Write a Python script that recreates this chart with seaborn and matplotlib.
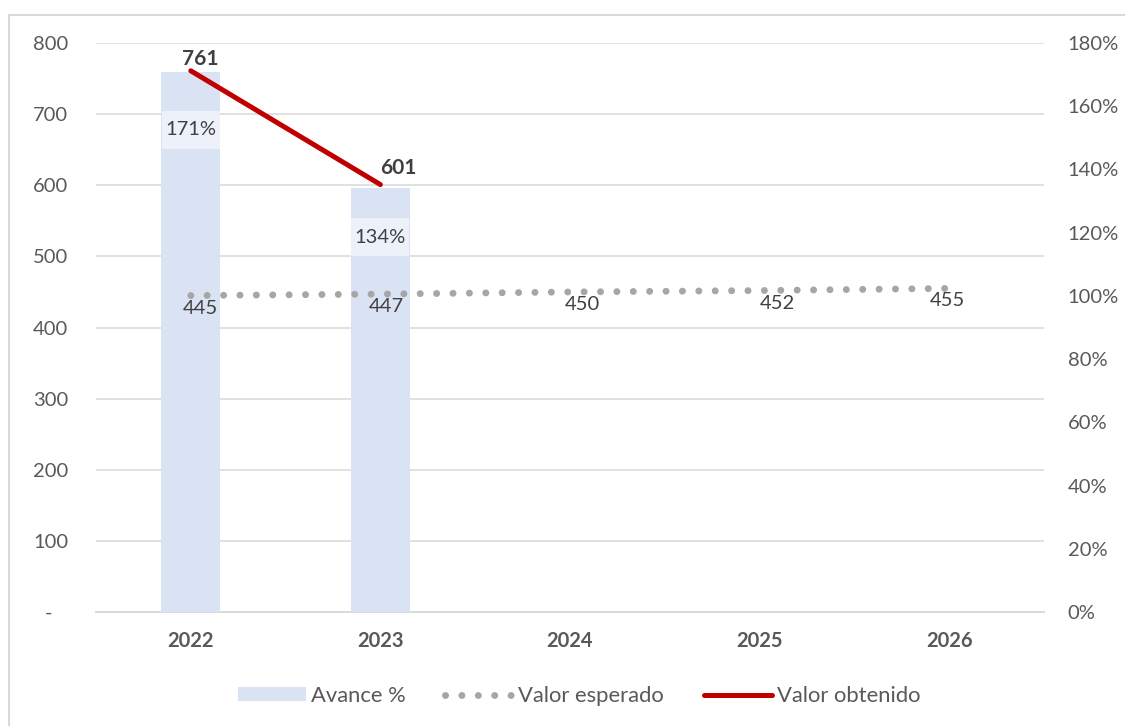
"""Valor esperado vs. valor obtenido, con avance % en barras (eje derecho)."""

import matplotlib

matplotlib.use("Agg")
import matplotlib.pyplot as plt  # noqa: E402
import pandas as pd  # noqa: E402
import seaborn as sns  # noqa: E402
from matplotlib.lines import Line2D  # noqa: E402
from matplotlib.patches import Patch, Rectangle  # noqa: E402
from matplotlib.path import Path  # noqa: E402
from matplotlib.ticker import FuncFormatter, MultipleLocator, PercentFormatter  # noqa: E402

# --- data -------------------------------------------------------------
years = ["2022", "2023", "2024", "2025", "2026"]
valor_esperado = [445, 447, 450, 452, 455]
obtenido_years = ["2022", "2023"]
valor_obtenido = [761, 601]
avance_pct = [1.71, 1.34]

# label nudges (points)
esperado_dx = [7, 4, 9, 13, -1]
obtenido_offsets = [(6.5, 8.5), (13, 12)]
avance_dy = [-42, -35]

BAR_COLOR = "#DAE3F3"
BOX_COLOR = "#EDF2FA"
DOT_COLOR = "#A6A6A6"
RED = "#C00000"
GRID = "#D9D9D9"
TICK_TXT = "#595959"
LABEL_TXT = "#404040"


def label_box(x0, y0, width, height, mutation_size):
    """Rectangle with less padding left/right than top/bottom (Excel-like)."""
    px, py = 0.17 * mutation_size, 0.52 * mutation_size
    x1, y1 = x0 + width + px, y0 + height + py
    x0, y0 = x0 - px, y0 - py
    return Path([(x0, y0), (x1, y0), (x1, y1), (x0, y1), (x0, y0)], closed=True)


sns.set_theme(style="white")
plt.rcParams["font.family"] = ["Lato", "DejaVu Sans"]

fig = plt.figure(figsize=(11.25, 7.26), dpi=100)
ax = fig.add_axes([0.0853, 0.157, 0.8427, 0.7837])
ax_pct = ax.twinx()
ax_line = ax.twinx()

# bars: avance % on the right-hand axis
bars = pd.DataFrame({"year": obtenido_years, "avance": avance_pct})
sns.barplot(
    data=bars,
    x="year",
    y="avance",
    order=years,
    color=BAR_COLOR,
    saturation=1,
    width=0.31,
    linewidth=0,
    errorbar=None,
    ax=ax_pct,
)
for year, v, dy in zip(obtenido_years, avance_pct, avance_dy):
    ax_pct.annotate(
        f"{v:.0%}",
        xy=(year, v),
        xytext=(0, dy),
        textcoords="offset points",
        ha="center",
        va="center",
        fontsize=14.5,
        color=LABEL_TXT,
        bbox=dict(boxstyle=label_box, fc=BOX_COLOR, ec="none"),
    )

# lines on the count scale
esperado = pd.DataFrame({"year": years, "valor": valor_esperado})
obtenido = pd.DataFrame({"year": obtenido_years, "valor": valor_obtenido})
sns.lineplot(
    data=esperado,
    x="year",
    y="valor",
    color=DOT_COLOR,
    linewidth=5,
    linestyle=(0, (0.01, 2.35)),
    dash_capstyle="round",
    ax=ax_line,
)
sns.lineplot(
    data=obtenido,
    x="year",
    y="valor",
    color=RED,
    linewidth=3.6,
    solid_capstyle="round",
    ax=ax_line,
)
for year, v, dx in zip(years, valor_esperado, esperado_dx):
    ax_line.annotate(
        f"{v}",
        xy=(year, v),
        xytext=(dx, -9),
        textcoords="offset points",
        ha="center",
        va="center",
        fontsize=14.5,
        color=LABEL_TXT,
    )
for year, v, (dx, dy) in zip(obtenido_years, valor_obtenido, obtenido_offsets):
    ax_line.annotate(
        f"{v}",
        xy=(year, v),
        xytext=(dx, dy),
        textcoords="offset points",
        ha="center",
        va="center",
        fontsize=15,
        fontweight="bold",
        color=LABEL_TXT,
    )

# axes styling
ax.set_xlim(-0.5, len(years) - 0.5)
ax.set_ylim(0, 800)
ax_line.set_ylim(0, 800)
ax_pct.set_ylim(0, 1.8)

ax.yaxis.set_major_locator(MultipleLocator(100))
ax.yaxis.set_major_formatter(
    FuncFormatter(lambda v, _: "-   " if v == 0 else f"{v:,.0f}")
)
ax.grid(axis="y", color=GRID, linewidth=1.1)
ax.grid(axis="x", visible=False)
ax.tick_params(axis="y", length=0, pad=20, labelsize=14.5, labelcolor=TICK_TXT)

ax_pct.yaxis.set_major_locator(MultipleLocator(0.2))
ax_pct.yaxis.set_major_formatter(PercentFormatter(1.0, decimals=0))
ax_pct.tick_params(axis="y", length=0, pad=17, labelsize=14.5, labelcolor=TICK_TXT)

ax_line.yaxis.set_visible(False)

ax.tick_params(axis="x", length=0, pad=14, labelsize=14.5, labelcolor=TICK_TXT)
for lbl in ax.get_xticklabels():
    lbl.set_fontweight("bold")

for a in (ax, ax_pct, ax_line):
    a.set_xlabel("")
    a.set_ylabel("")
    for s in a.spines.values():
        s.set_visible(False)
ax.spines["bottom"].set_visible(True)
ax.spines["bottom"].set_color(GRID)
ax.spines["bottom"].set_linewidth(1.4)

# legend
handles = [
    Patch(facecolor=BAR_COLOR, edgecolor="none"),
    Line2D([], [], color=DOT_COLOR, linewidth=5, linestyle=(0, (0.01, 2.35)),
           dash_capstyle="round"),
    Line2D([], [], color=RED, linewidth=3.6, solid_capstyle="round"),
]
fig.legend(
    handles,
    ["Avance %", "Valor esperado", "Valor obtenido"],
    loc="center",
    bbox_to_anchor=(579 / 1125, 1 - 696 / 726),
    ncol=3,
    frameon=False,
    fontsize=15.8,
    labelcolor=TICK_TXT,
    handlelength=3.1,
    handleheight=0.6,
    handletextpad=0.23,
    columnspacing=1.8,
)

# chart-area border (cropped at right and bottom in the original)
fig.add_artist(
    Rectangle((9 / 1125, -0.1), 1.2, 1.1 - 15 / 726, transform=fig.transFigure,
              fill=False, edgecolor=GRID, linewidth=1.5)
)

fig.savefig("out.png", dpi=100)
plt.close(fig)
